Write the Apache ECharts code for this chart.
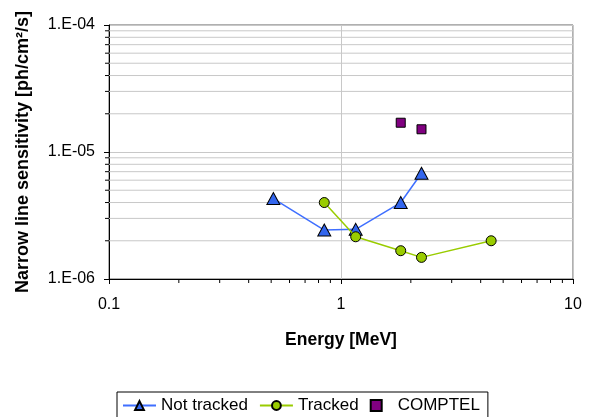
<!DOCTYPE html>
<html><head><meta charset="utf-8">
<script src="https://cdn.jsdelivr.net/npm/echarts@6/dist/echarts.min.js"></script>
<style>html,body{margin:0;padding:0;background:#fff}#c{width:591px;height:417px}</style>
</head><body><div id="c"></div>
<script>
const notTrackedEnergy = [0.511, 0.847, 1.157, 1.809, 2.223];
const notTrackedSens   = [4.3e-6, 2.43e-6, 2.46e-6, 4.0e-6, 6.8e-6];
const trackedEnergy = [0.847, 1.157, 1.809, 2.223, 4.438];
const trackedSens   = [4.0e-6, 2.15e-6, 1.67e-6, 1.48e-6, 2.0e-6];
const comptelEnergy = [1.809, 2.223];
const comptelSens   = [1.7e-5, 1.51e-5];
const xMinorValues = [0.2,0.3,0.4,0.5,0.6,0.7,0.8,0.9,2,3,4,5,6,7,8,9];
const yMinorValues = [2e-6,3e-6,4e-6,5e-6,6e-6,7e-6,8e-6,9e-6,2e-5,3e-5,4e-5,5e-5,6e-5,7e-5,8e-5,9e-5];

const zip = (a,b) => a.map((v,i)=>[v,b[i]]);
const font = 'Liberation Sans, Arial, sans-serif';
function fmt(v){
  const e = Math.round(Math.log10(v));
  const a = Math.abs(e);
  return '1.E' + (e<0?'-':'+') + (a<10?'0':'') + a;
}
const chart = echarts.init(document.getElementById('c'));
chart.setOption({
  animation:false,
  backgroundColor:'#fff',
  grid:{left:109,right:18,top:25,bottom:138,show:true,borderColor:'#606060',borderWidth:1,backgroundColor:'transparent'},
  xAxis:{type:'log',logBase:10,min:0.1,max:10,
    name:'Energy [MeV]',nameLocation:'middle',nameGap:52,
    nameTextStyle:{fontFamily:font,fontWeight:'bold',fontSize:17.5,color:'#000'},
    axisLine:{lineStyle:{color:'#000'}},
    axisTick:{show:true,inside:false,length:5,lineStyle:{color:'#000'}},
    axisLabel:{fontFamily:font,fontSize:16,color:'#000',margin:18,formatter:v=>String(+v)},
    splitLine:{show:true,lineStyle:{color:'#c8c8c8'}},
    minorTick:{show:false}},
  yAxis:{type:'log',logBase:10,min:1e-6,max:1e-4,
    name:'Narrow line sensitivity [ph/cm²/s]',nameLocation:'middle',nameGap:77,
    nameTextStyle:{fontFamily:font,fontWeight:'bold',fontSize:18,color:'#000'},
    axisLine:{lineStyle:{color:'#000'}},
    axisTick:{show:true,inside:false,length:5,lineStyle:{color:'#000'}},
    axisLabel:{fontFamily:font,fontSize:16,color:'#000',margin:14,formatter:fmt},
    splitLine:{show:true,lineStyle:{color:'#c8c8c8'}},
    minorTick:{show:false}},
  legend:{left:117,top:392,
    data:['Not tracked','Tracked',{name:'COMPTEL',icon:'path://M0,0H10V10H0Z'}],
    borderColor:'#000',borderWidth:1,padding:[5,8,6,5],itemGap:11,itemWidth:33,itemHeight:11,
    symbolKeepAspect:true,
    textStyle:{fontFamily:font,fontSize:17,color:'#000'}},
  series:[
    {type:'custom',name:'ygrid',silent:true,z:1,coordinateSystem:'cartesian2d',
      data:yMinorValues.map(v=>[1,v]),
      renderItem:(params,api)=>{
        const p = api.coord([1, api.value(1)]);
        const cs = params.coordSys;
        return {type:'group',children:[
          {type:'line',shape:{x1:cs.x,y1:p[1],x2:cs.x+cs.width,y2:p[1]},style:{stroke:'#c8c8c8',lineWidth:1}},
          {type:'line',shape:{x1:cs.x-4,y1:p[1],x2:cs.x,y2:p[1]},style:{stroke:'#000',lineWidth:1}}
        ]};
      }},
    {type:'custom',name:'xticks',silent:true,z:1,coordinateSystem:'cartesian2d',
      data:xMinorValues.map(v=>[v,1e-6]),
      renderItem:(params,api)=>{
        const p = api.coord([api.value(0), 1e-6]);
        return {type:'line',shape:{x1:p[0],y1:p[1],x2:p[0],y2:p[1]+4},style:{stroke:'#000',lineWidth:1}};
      }},
    {type:'line',name:'Not tracked',data:zip(notTrackedEnergy,notTrackedSens),z:3,
      symbol:'triangle',symbolSize:[13,12],
      lineStyle:{color:'#3f6fff',width:1.5},
      itemStyle:{color:'#3366ee',borderColor:'#000',borderWidth:1}},
    {type:'line',name:'Tracked',data:zip(trackedEnergy,trackedSens),z:4,
      symbol:'circle',symbolSize:10,
      lineStyle:{color:'#99cc00',width:1.5},
      itemStyle:{color:'#99cc00',borderColor:'#000',borderWidth:1}},
    {type:'scatter',name:'COMPTEL',data:zip(comptelEnergy,comptelSens),z:4,
      symbol:'rect',symbolSize:9,
      itemStyle:{color:'#800080',borderColor:'#000',borderWidth:1,opacity:1}}
  ]
});
</script></body></html>
